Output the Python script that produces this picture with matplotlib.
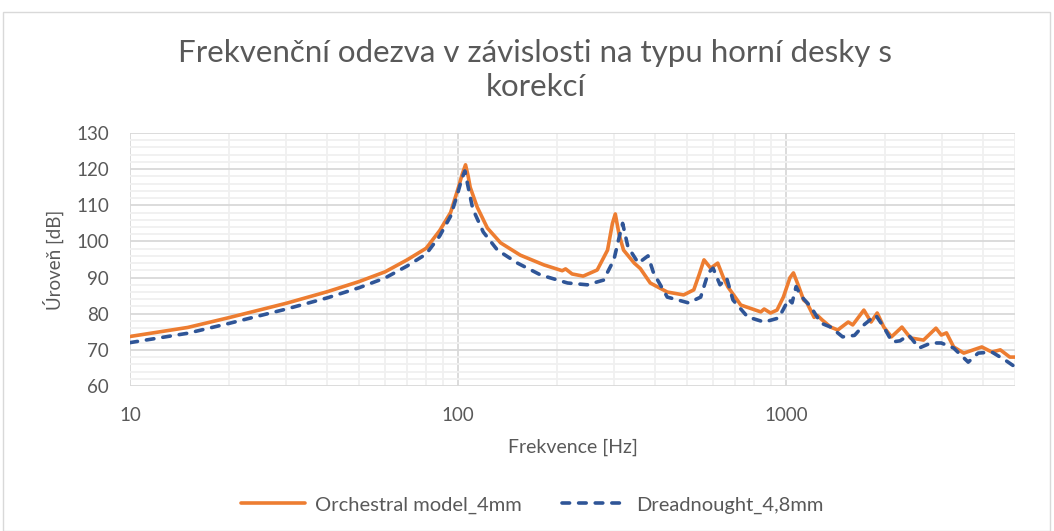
import matplotlib
matplotlib.use("Agg")
import matplotlib.pyplot as plt
from matplotlib.ticker import LogLocator, FixedLocator, NullFormatter, FixedFormatter
from matplotlib.patches import Rectangle

# ---- data ----
orch_freq = [10, 15, 20, 30, 40, 50, 60, 70, 80, 88, 95, 100.4, 103, 105.5, 107.5, 109, 114.5,
             123, 135, 155, 183, 208, 213, 223, 241, 266, 286, 296, 302, 310, 320, 345, 360,
             386, 435, 488, 524, 545, 563, 590, 620, 645, 666, 729, 839, 859, 898, 940, 983,
             1030, 1055, 1090, 1133, 1160, 1220, 1250, 1290, 1370, 1440, 1550, 1600, 1730, 1820,
             1900, 1990, 2100, 2260, 2400, 2630, 2870, 2980, 3090, 3250, 3490, 3960, 4250, 4510,
             4820, 5000]
orch_level = [73.7, 76.2, 78.9, 82.9, 86.1, 88.9, 91.6, 94.9, 98.1, 103.0, 108.0, 115.0, 118.5,
              121.2, 118.0, 115.0, 109.5, 103.7, 99.6, 96.2, 93.5, 91.9, 92.4, 91.0, 90.4, 92.1,
              97.6, 105.0, 107.6, 102.0, 97.6, 94.0, 92.5, 88.5, 86.0, 85.2, 86.6, 91.0, 94.9,
              92.6, 94.0, 90.0, 87.4, 82.4, 80.5, 81.3, 80.2, 81.0, 84.6, 90.0, 91.3, 88.0, 83.8,
              83.0, 79.0, 79.5, 78.3, 76.3, 75.5, 77.7, 76.9, 81.0, 77.7, 80.2, 76.3, 73.6, 76.3,
              73.3, 72.7, 76.0, 74.1, 74.7, 70.8, 69.1, 70.8, 69.4, 70.0, 68.0, 68.0]

dread_freq = [10, 15, 20, 30, 40, 50, 60, 70, 80, 88, 95, 100, 102.5, 105, 107.5, 111, 119.5,
              132, 152, 179, 216, 248, 278, 299, 310, 318, 330, 355, 380, 395, 435, 505, 550,
              580, 600, 630, 660, 690, 765, 859, 950, 980, 1020, 1045, 1075, 1110, 1190, 1280,
              1370, 1490, 1620, 1730, 1880, 1990, 2110, 2230, 2370, 2550, 2770, 2980, 3250, 3600,
              3860, 4250, 4660, 5000]
dread_level = [72.0, 74.6, 77.3, 81.3, 84.4, 87.2, 89.9, 93.2, 96.5, 101.5, 107.0, 113.5, 117.0,
               119.5, 115.0, 109.0, 102.6, 97.6, 94.0, 90.7, 88.5, 88.0, 89.3, 94.9, 101.0, 105.0,
               98.5, 94.0, 96.0, 91.3, 84.6, 83.0, 84.6, 91.3, 92.6, 88.0, 89.9, 83.8, 79.1, 77.7,
               78.8, 81.0, 84.0, 83.0, 87.5, 85.0, 82.0, 77.4, 76.3, 73.6, 74.0, 76.9, 79.6, 76.3,
               72.2, 72.5, 74.1, 70.5, 71.9, 71.9, 70.5, 66.6, 69.1, 69.4, 67.2, 65.3]

x_ticks = [10, 100, 1000]
x_tick_labels = ["10", "100", "1000"]
y_ticks = [60, 70, 80, 90, 100, 110, 120, 130]

title = "Frekvenční odezva v závislosti na typu horní desky s\nkorekcí"
xlabel = "Frekvence [Hz]"
ylabel = "Úroveň [dB]"
series_names = ["Orchestral model_4mm", "Dreadnought_4,8mm"]

# ---- style ----
plt.rcParams['font.family'] = ['Lato', 'DejaVu Sans']
TXT = "#595959"
ORANGE = "#ED7D31"
BLUE = "#2F5597"

fig = plt.figure(figsize=(10.54, 5.31), dpi=100)
ax = fig.add_axes([130/1054, 1-386/531, (1015-130)/1054, (386-133)/531])

ax.set_xscale('log')
ax.set_xlim(10, 5000)
ax.set_ylim(60, 130)

ax.plot(orch_freq, orch_level, color=ORANGE, lw=2.6, solid_joinstyle='round',
        solid_capstyle='round', label=series_names[0], zorder=3)
ax.plot(dread_freq, dread_level, color=BLUE, lw=2.6, dashes=(2.1, 2.5),
        dash_capstyle='round', dash_joinstyle='round', label=series_names[1], zorder=4)

# grid
ax.xaxis.set_major_locator(FixedLocator(x_ticks))
ax.xaxis.set_major_formatter(FixedFormatter(x_tick_labels))
ax.xaxis.set_minor_locator(LogLocator(base=10, subs=range(2, 10)))
ax.xaxis.set_minor_formatter(NullFormatter())
ax.yaxis.set_major_locator(FixedLocator(y_ticks))
ax.yaxis.set_minor_locator(FixedLocator(list(range(60, 131, 2))))
ax.grid(which='major', color="#d9d9d9", lw=1.3, zorder=0)
ax.grid(which='minor', color="#f0f0f0", lw=1.3, zorder=0)
ax.set_axisbelow(True)
for s in ax.spines.values():
    s.set_visible(False)
ax.tick_params(which='both', length=0, colors=TXT, labelsize=13.5)
ax.tick_params(axis='x', pad=15)
ax.tick_params(axis='y', pad=15)

ax.set_xlabel(xlabel, fontsize=14, color=TXT, labelpad=11)
ax.set_ylabel(ylabel, fontsize=13.5, color=TXT, labelpad=9)

fig.text(0.508, 1-70/531, title, ha='center', va='center', fontsize=22.5,
         color=TXT, fontweight='normal', linespacing=1.3)

leg = fig.legend(loc='center', bbox_to_anchor=(0.505, 1-505/531), ncol=2, frameon=False,
                 fontsize=14.5, handlelength=3.2, columnspacing=2.0, handletextpad=0.5,
                 labelcolor=TXT)

fig.patches.append(Rectangle((3/1054, 0), 1047/1054, 1-12/531, transform=fig.transFigure,
                             fill=False, edgecolor="#d9d9d9", lw=1.0))

fig.savefig("out.png", dpi=100)
